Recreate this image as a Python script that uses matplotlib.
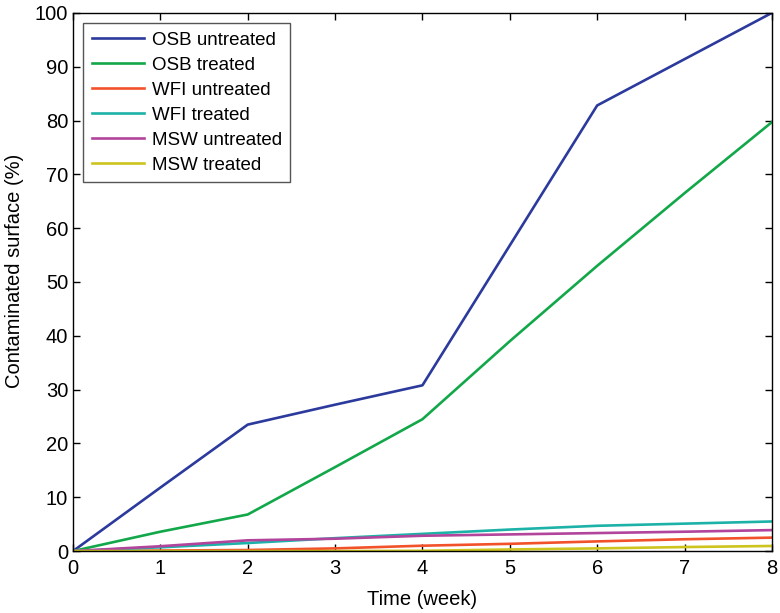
import matplotlib.pyplot as plt

plt.rcParams['font.family'] = ['Liberation Sans', 'DejaVu Sans']

# weeks and contaminated surface (%)
weeks = [0, 1, 2, 3, 4, 5, 6, 7, 8]
osb_untreated = [0, 11.8, 23.5, 27.2, 30.8, 56.8, 82.8, 91.4, 100]
osb_treated = [0, 3.6, 6.8, 15.6, 24.5, 39.0, 53.0, 66.5, 79.7]
wfi_untreated = [0, 0.1, 0.2, 0.5, 1.0, 1.35, 1.8, 2.2, 2.5]
wfi_treated = [0, 0.7, 1.5, 2.4, 3.2, 4.0, 4.7, 5.1, 5.5]
msw_untreated = [0, 0.9, 2.0, 2.3, 2.85, 3.1, 3.35, 3.6, 3.9]
msw_treated = [0, 0, 0, 0, 0.05, 0.3, 0.5, 0.75, 0.95]

series = [
    ('OSB untreated', osb_untreated, '#2b3a9c'),
    ('OSB treated', osb_treated, '#12a84a'),
    ('WFI untreated', wfi_untreated, '#f2522a'),
    ('WFI treated', wfi_treated, '#1db2a8'),
    ('MSW untreated', msw_untreated, '#b2449c'),
    ('MSW treated', msw_treated, '#cdc41e'),
]

fig = plt.figure(figsize=(7.8, 6.13), dpi=100)
ax = fig.add_axes([0.0936, 0.101, 0.896, 0.878])

for name, values, color in series:
    ax.plot(weeks, values, color=color, linewidth=1.9, label=name)

ax.set_xlim(0, 8)
ax.set_ylim(0, 100)
ax.set_xticks(range(0, 9))
ax.set_yticks(range(0, 101, 10))
ax.tick_params(direction='in', top=True, right=True, labelsize=14.5,
               length=5, width=1)
ax.tick_params(axis='x', pad=6)
for spine in ax.spines.values():
    spine.set_linewidth(1)

ax.set_xlabel('Time (week)', fontsize=14.5, labelpad=8)
ax.set_ylabel('Contaminated surface (%)', fontsize=14.5)
ax.yaxis.set_label_coords(-0.07, 0.52)

leg = ax.legend(loc='upper left', fontsize=13.5, fancybox=False,
                framealpha=1, edgecolor='#555555', handlelength=2.8,
                handletextpad=0.4, borderaxespad=0.55, labelspacing=0.42,
                borderpad=0.45)
leg.get_frame().set_linewidth(1)

fig.savefig('out.png', dpi=100)
